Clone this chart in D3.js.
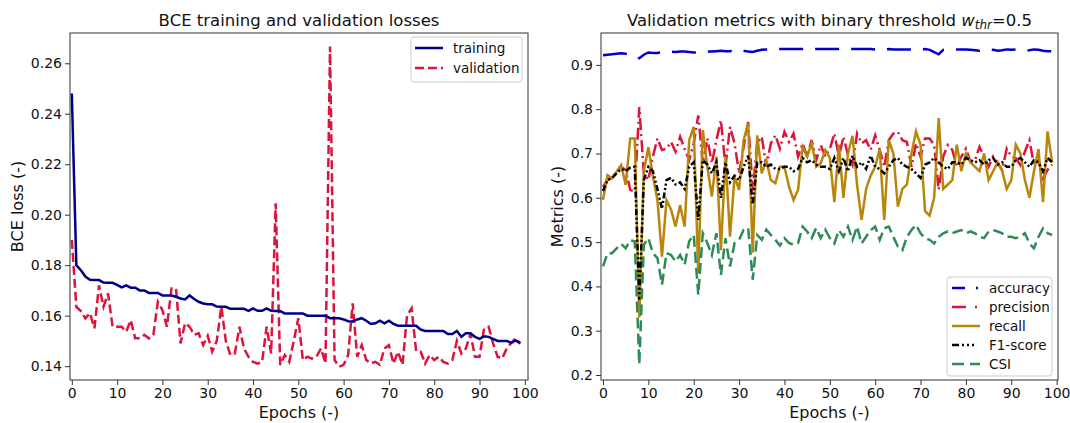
<!DOCTYPE html>
<html><head><meta charset="utf-8">
<script src="https://cdn.jsdelivr.net/npm/d3@7"></script>
<style>
html,body{margin:0;padding:0;background:#fff;}
svg{display:block;font-family:"DejaVu Sans",sans-serif;}
</style></head>
<body><svg id="c" width="1070" height="423"></svg>
<script>
const epochs = d3.range(0, 100);
const trainingLoss = [0.248,0.180,0.178,0.1755,0.1742,0.1741,0.1741,0.1731,0.173,0.173,
0.1722,0.1712,0.172,0.1711,0.1711,0.170,0.170,0.169,0.169,0.169,
0.168,0.168,0.168,0.1675,0.1668,0.1664,0.168,0.1666,0.1655,0.1648,
0.1645,0.1645,0.1636,0.1635,0.1635,0.1627,0.1627,0.1627,0.1627,0.1619,
0.1629,0.1619,0.1619,0.1629,0.1619,0.1618,0.1618,0.1609,0.1609,0.1609,
0.1609,0.1609,0.160,0.160,0.160,0.160,0.160,0.159,0.159,0.159,
0.1585,0.1578,0.1577,0.1585,0.159,0.158,0.1567,0.157,0.158,0.157,
0.158,0.1567,0.156,0.156,0.156,0.156,0.156,0.1545,0.1539,0.1539,
0.1539,0.1539,0.1539,0.1527,0.1527,0.1539,0.1516,0.153,0.153,0.1516,
0.1508,0.1518,0.1516,0.1508,0.150,0.150,0.150,0.1492,0.1502,0.149];
const validationLoss = [0.190,0.1635,0.1618,0.1589,0.161,0.155,0.172,0.1635,0.1688,0.1556,
0.1556,0.1556,0.1536,0.1582,0.151,0.151,0.1524,0.151,0.1524,0.1655,
0.1622,0.1556,0.1708,0.1708,0.149,0.157,0.1556,0.1524,0.153,0.1483,
0.152,0.1457,0.150,0.1635,0.150,0.1444,0.145,0.1556,0.147,0.1437,
0.1417,0.141,0.1417,0.1556,0.145,0.2045,0.1405,0.1444,0.1417,0.150,
0.159,0.1424,0.1437,0.143,0.1437,0.147,0.1411,0.2666,0.1424,0.1398,
0.1405,0.1444,0.1649,0.1437,0.1483,0.1424,0.1411,0.1417,0.1405,0.147,
0.1483,0.141,0.1457,0.1405,0.160,0.1629,0.146,0.1457,0.141,0.1444,
0.1424,0.1437,0.1417,0.141,0.1424,0.150,0.145,0.147,0.1529,0.1437,
0.1437,0.1549,0.1556,0.149,0.1437,0.143,0.147,0.1492,0.151,0.149];

const accuracy = [0.922,0.923,0.924,0.925,0.926,0.925,0.924,0.922,0.915,0.923,
0.928,0.927,0.927,0.929,0.930,0.930,0.929,0.930,0.930,0.929,
0.928,0.928,0.929,0.930,0.930,0.931,0.932,0.931,0.931,0.933,
0.934,0.932,0.930,0.929,0.932,0.934,0.935,0.935,0.935,0.936,
0.936,0.936,0.936,0.936,0.936,0.936,0.936,0.936,0.936,0.936,
0.936,0.936,0.936,0.936,0.936,0.936,0.936,0.936,0.936,0.936,
0.935,0.933,0.934,0.936,0.935,0.935,0.935,0.935,0.935,0.935,
0.935,0.936,0.934,0.929,0.924,0.934,0.935,0.935,0.935,0.935,
0.935,0.934,0.933,0.932,0.934,0.935,0.934,0.932,0.933,0.935,
0.934,0.935,0.934,0.932,0.933,0.935,0.934,0.932,0.931,0.931];
const precision = [0.625,0.64,0.646,0.659,0.67,0.663,0.618,0.614,0.805,0.655,
0.64,0.693,0.734,0.708,0.711,0.726,0.704,0.738,0.71,0.685,
0.723,0.786,0.678,0.734,0.678,0.73,0.775,0.67,0.76,0.723,
0.655,0.715,0.771,0.617,0.723,0.738,0.67,0.723,0.741,0.711,
0.749,0.726,0.745,0.693,0.723,0.693,0.73,0.685,0.719,0.693,
0.71,0.745,0.693,0.738,0.696,0.674,0.745,0.723,0.73,0.708,
0.741,0.708,0.67,0.73,0.745,0.749,0.73,0.726,0.67,0.723,
0.693,0.734,0.734,0.719,0.618,0.693,0.719,0.708,0.67,0.693,
0.711,0.681,0.685,0.715,0.693,0.67,0.693,0.678,0.663,0.711,
0.693,0.689,0.674,0.704,0.73,0.674,0.685,0.644,0.663,0.675];
const recall = [0.595,0.651,0.644,0.659,0.674,0.629,0.734,0.734,0.33,0.66,
0.714,0.648,0.595,0.467,0.595,0.573,0.535,0.584,0.535,0.73,
0.76,0.43,0.753,0.67,0.603,0.693,0.482,0.693,0.512,0.648,
0.618,0.73,0.768,0.476,0.741,0.655,0.685,0.64,0.633,0.67,
0.67,0.625,0.595,0.618,0.715,0.693,0.723,0.67,0.678,0.708,
0.69,0.59,0.72,0.60,0.70,0.74,0.63,0.55,0.62,0.65,
0.67,0.71,0.55,0.73,0.70,0.58,0.62,0.63,0.70,0.75,
0.72,0.57,0.56,0.60,0.78,0.62,0.63,0.64,0.72,0.66,
0.70,0.68,0.67,0.66,0.70,0.64,0.66,0.68,0.66,0.62,
0.64,0.72,0.70,0.64,0.60,0.66,0.71,0.59,0.75,0.68];
const f1score = [0.615,0.64,0.645,0.655,0.665,0.66,0.668,0.67,0.37,0.64,
0.67,0.66,0.62,0.575,0.64,0.645,0.63,0.635,0.62,0.67,
0.68,0.55,0.685,0.675,0.655,0.68,0.60,0.68,0.635,0.65,
0.64,0.67,0.695,0.585,0.68,0.68,0.67,0.675,0.665,0.665,
0.67,0.67,0.66,0.665,0.69,0.68,0.685,0.675,0.67,0.67,
0.665,0.69,0.66,0.69,0.66,0.695,0.67,0.68,0.665,0.695,
0.67,0.665,0.655,0.67,0.685,0.69,0.675,0.67,0.665,0.655,
0.645,0.675,0.68,0.69,0.68,0.67,0.665,0.68,0.68,0.675,
0.69,0.685,0.68,0.685,0.675,0.685,0.69,0.675,0.68,0.67,
0.67,0.685,0.69,0.68,0.67,0.685,0.68,0.66,0.69,0.68];
const csi = [0.445,0.475,0.475,0.486,0.496,0.486,0.504,0.502,0.224,0.494,
0.509,0.475,0.464,0.404,0.475,0.471,0.456,0.471,0.449,0.502,
0.516,0.381,0.52,0.498,0.471,0.52,0.426,0.509,0.445,0.498,
0.505,0.528,0.532,0.415,0.516,0.505,0.528,0.516,0.505,0.492,
0.509,0.498,0.494,0.498,0.535,0.524,0.509,0.532,0.509,0.528,
0.509,0.497,0.527,0.512,0.535,0.505,0.535,0.497,0.512,0.527,
0.535,0.505,0.531,0.535,0.512,0.49,0.482,0.512,0.527,0.539,
0.52,0.509,0.505,0.497,0.512,0.52,0.524,0.52,0.524,0.527,
0.52,0.524,0.52,0.512,0.509,0.524,0.527,0.524,0.52,0.512,
0.512,0.509,0.512,0.52,0.497,0.486,0.512,0.531,0.52,0.516];

const xTicks = d3.range(0, 101, 10);
const lossTicks = [0.14,0.16,0.18,0.20,0.22,0.24,0.26];
const metricTicks = [0.2,0.3,0.4,0.5,0.6,0.7,0.8,0.9];

const svg = d3.select("#c");
const FS = 14;

function frame(g, x, y, xt, yt, yfmt, left, right, top, bottom) {
  g.append("rect").attr("x", left).attr("y", top).attr("width", right-left).attr("height", bottom-top)
    .attr("fill","none").attr("stroke","#333").attr("stroke-width",1);
  const xa = g.append("g").attr("transform",`translate(0,${bottom})`)
    .call(d3.axisBottom(x).tickValues(xt).tickSize(5).tickPadding(3).tickFormat(d3.format("d")));
  const ya = g.append("g").attr("transform",`translate(${left},0)`)
    .call(d3.axisLeft(y).tickValues(yt).tickSize(5).tickPadding(3).tickFormat(yfmt));
  [xa, ya].forEach(a => {
    a.select(".domain").remove();
    a.selectAll("line").attr("stroke","#333");
    a.selectAll("text").attr("font-size",FS).attr("fill","#111").attr("font-family","DejaVu Sans");
  });
}

// ---------- Left panel ----------
const L = {left:70, right:528, top:33, bottom:380};
const xL = d3.scaleLinear().domain([-0.4, 100.7]).range([L.left, L.right]);
const yL = d3.scaleLinear().domain([0.1345, 0.2720]).range([L.bottom, L.top]);
const gL = svg.append("g");
svg.append("clipPath").attr("id","clipL").append("rect")
  .attr("x",L.left).attr("y",L.top).attr("width",L.right-L.left).attr("height",L.bottom-L.top);
const lineL = (arr) => d3.line().x((d,i)=>xL(epochs[i])).y(d=>yL(d))(arr);
gL.append("path").attr("d", lineL(validationLoss)).attr("fill","none").attr("stroke","#dc143c")
  .attr("stroke-width",2.5).attr("stroke-dasharray","9,4").attr("clip-path","url(#clipL)");
gL.append("path").attr("d", lineL(trainingLoss)).attr("fill","none").attr("stroke","#00008b")
  .attr("stroke-width",2.5).attr("clip-path","url(#clipL)");
frame(gL, xL, yL, xTicks, lossTicks, d3.format(".2f"), L.left, L.right, L.top, L.bottom);
gL.append("text").attr("x",(L.left+L.right)/2).attr("y",26).attr("text-anchor","middle")
  .attr("font-size",16.5).attr("fill","#111").text("BCE training and validation losses");
gL.append("text").attr("x",(L.left+L.right)/2).attr("y",418).attr("text-anchor","middle")
  .attr("font-size",16).attr("fill","#111").text("Epochs (-)");
gL.append("text").attr("transform",`translate(23,${(L.top+L.bottom)/2}) rotate(-90)`).attr("text-anchor","middle")
  .attr("font-size",16).attr("fill","#111").text("BCE loss (-)");
// legend
const legL = gL.append("g");
legL.append("rect").attr("x",411).attr("y",37).attr("width",111).attr("height",45).attr("rx",3)
  .attr("fill","#fff").attr("fill-opacity",0.8).attr("stroke","#ccc");
[["training","#00008b",null,48],["validation","#dc143c","9,4",68]].forEach(([t,c,da,yy])=>{
  const ln = legL.append("line").attr("x1",415).attr("x2",443).attr("y1",yy).attr("y2",yy)
    .attr("stroke",c).attr("stroke-width",2.5);
  if (da) ln.attr("stroke-dasharray",da);
  legL.append("text").attr("x",453).attr("y",yy+4.5).attr("font-size",13.5).attr("fill","#111").text(t);
});

// ---------- Right panel ----------
const R = {left:601, right:1058, top:33, bottom:380};
const xR = d3.scaleLinear().domain([-0.44, 100.3]).range([R.left, R.right]);
const yR = d3.scaleLinear().domain([0.1887, 0.972]).range([R.bottom, R.top]);
const gR = svg.append("g");
svg.append("clipPath").attr("id","clipR").append("rect")
  .attr("x",R.left).attr("y",R.top).attr("width",R.right-R.left).attr("height",R.bottom-R.top);
const lineR = (arr) => d3.line().x((d,i)=>xR(epochs[i])).y(d=>yR(d))(arr);
const series = [
  {name:"accuracy", data:accuracy, color:"#0000cd", dash:"24,12", ldash:"13,11,2,20"},
  {name:"precision", data:precision, color:"#dc143c", dash:"12,4,2,4", ldash:"14,9,2,20"},
  {name:"recall", data:recall, color:"#b8860b", dash:null, ldash:null},
  {name:"F1-score", data:f1score, color:"#000000", dash:"6,2.5,2,2.5,2,2.5", ldash:"7,3,2,3,2,3,2"},
  {name:"CSI", data:csi, color:"#2e8b57", dash:"11,5", ldash:"12,6"}
];
series.forEach(s=>{
  const p = gR.append("path").attr("d", lineR(s.data)).attr("fill","none").attr("stroke",s.color)
    .attr("stroke-width",2.5).attr("clip-path","url(#clipR)");
  if (s.dash) p.attr("stroke-dasharray", s.dash);
});
frame(gR, xR, yR, xTicks, metricTicks, d3.format(".1f"), R.left, R.right, R.top, R.bottom);
const tR = gR.append("text").attr("x",(R.left+R.right)/2).attr("y",26).attr("text-anchor","middle")
  .attr("font-size",16.5).attr("fill","#111");
tR.append("tspan").text("Validation metrics with binary threshold ");
tR.append("tspan").attr("font-style","italic").text("w");
tR.append("tspan").attr("font-style","italic").attr("font-size",12).attr("dy",3).text("thr");
tR.append("tspan").attr("dy",-3).text("=0.5");
gR.append("text").attr("x",(R.left+R.right)/2).attr("y",418).attr("text-anchor","middle")
  .attr("font-size",16).attr("fill","#111").text("Epochs (-)");
gR.append("text").attr("transform",`translate(563,${(R.top+R.bottom)/2}) rotate(-90)`).attr("text-anchor","middle")
  .attr("font-size",16).attr("fill","#111").text("Metrics (-)");
const legR = gR.append("g");
legR.append("rect").attr("x",947).attr("y",277).attr("width",105).attr("height",99).attr("rx",3)
  .attr("fill","#fff").attr("fill-opacity",0.8).attr("stroke","#ccc");
series.forEach((s,i)=>{
  const yy = 288 + i*19;
  const ln = legR.append("line").attr("x1",952).attr("x2",980).attr("y1",yy).attr("y2",yy)
    .attr("stroke",s.color).attr("stroke-width",2.5);
  if (s.ldash) ln.attr("stroke-dasharray", s.ldash);
  legR.append("text").attr("x",989).attr("y",yy+4.5).attr("font-size",13.5).attr("fill","#111").text(s.name);
});
</script></body></html>
